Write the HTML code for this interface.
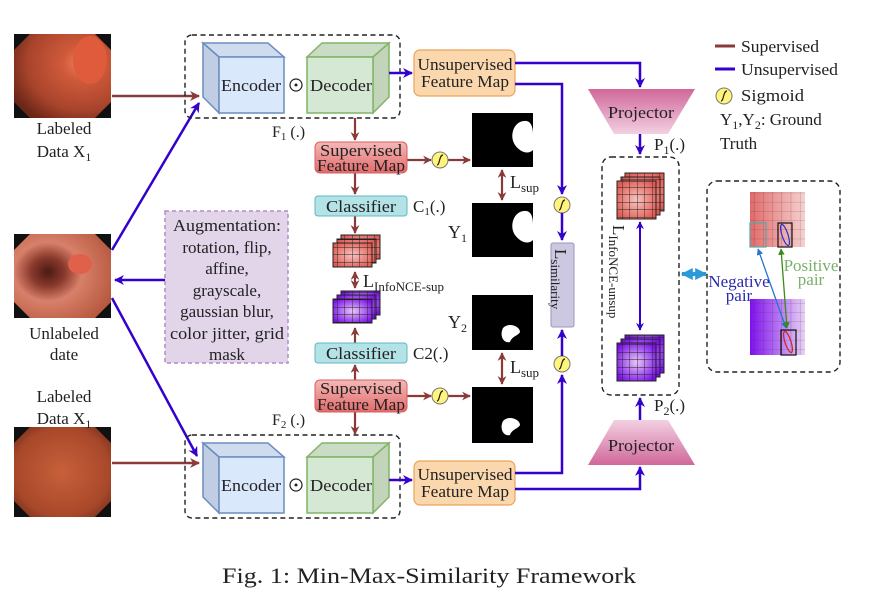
<!DOCTYPE html>
<html><head><meta charset="utf-8"><style>
html,body{margin:0;padding:0;background:#fff}
svg{display:block}
text{font-family:"Liberation Serif",serif;fill:#222}
</style></head><body>
<svg width="872" height="606" viewBox="0 0 872 606" xmlns="http://www.w3.org/2000/svg">
<defs>
<marker id="ab" viewBox="0 0 10 10" refX="9" refY="5" markerWidth="4" markerHeight="4" orient="auto-start-reverse"><path d="M0,0 L10,5 L0,10 L3,5 z" fill="#3300cc"/></marker>
<marker id="ar" viewBox="0 0 10 10" refX="9" refY="5" markerWidth="4" markerHeight="4" orient="auto-start-reverse"><path d="M0,0 L10,5 L0,10 L3,5 z" fill="#8b3a3a"/></marker>
<marker id="ac" viewBox="0 0 10 10" refX="9" refY="5" markerWidth="3" markerHeight="3" orient="auto-start-reverse"><path d="M0,0 L10,5 L0,10 z" fill="#2a9bd8"/></marker>
<marker id="an" viewBox="0 0 10 10" refX="9" refY="5" markerWidth="5" markerHeight="5" orient="auto-start-reverse"><path d="M0,0 L10,5 L0,10 z" fill="#2277cc"/></marker>
<marker id="ap" viewBox="0 0 10 10" refX="9" refY="5" markerWidth="5" markerHeight="5" orient="auto-start-reverse"><path d="M0,0 L10,5 L0,10 z" fill="#3a8a1a"/></marker>
<radialGradient id="ph1" cx="0.7" cy="0.35" r="0.8"><stop offset="0" stop-color="#f08060"/><stop offset="0.25" stop-color="#d05a3a"/><stop offset="0.7" stop-color="#a8442c"/><stop offset="1" stop-color="#6a2616"/></radialGradient>
<radialGradient id="ph2" cx="0.35" cy="0.45" r="0.7"><stop offset="0" stop-color="#4a1a14"/><stop offset="0.25" stop-color="#8a3a2c"/><stop offset="0.5" stop-color="#d8806a"/><stop offset="1" stop-color="#b85a40"/></radialGradient>
<radialGradient id="ph3" cx="0.5" cy="0.5" r="0.7"><stop offset="0" stop-color="#c8603a"/><stop offset="0.7" stop-color="#a8482a"/><stop offset="1" stop-color="#6a2818"/></radialGradient>
<linearGradient id="sfm" x1="0" y1="0" x2="0" y2="1"><stop offset="0" stop-color="#f5b8b8"/><stop offset="1" stop-color="#e26a6a"/></linearGradient>
<linearGradient id="proj" x1="0" y1="0" x2="0" y2="1"><stop offset="0" stop-color="#d0689a"/><stop offset="1" stop-color="#f3d0e2"/></linearGradient>
<linearGradient id="proj2" x1="0" y1="1" x2="0" y2="0"><stop offset="0" stop-color="#d0689a"/><stop offset="1" stop-color="#f3d0e2"/></linearGradient>
<radialGradient id="rc" cx="0.5" cy="0.5" r="0.6"><stop offset="0" stop-color="#f8c4c0"/><stop offset="1" stop-color="#e05a52"/></radialGradient>
<radialGradient id="pc" cx="0.5" cy="0.5" r="0.6"><stop offset="0" stop-color="#e8c8f8"/><stop offset="1" stop-color="#7a10e8"/></radialGradient>
<linearGradient id="rg" x1="0" y1="0" x2="1" y2="0"><stop offset="0" stop-color="#e26a6a"/><stop offset="1" stop-color="#f8d0d0"/></linearGradient>
<linearGradient id="pg" x1="0" y1="0" x2="1" y2="0"><stop offset="0" stop-color="#8010f0"/><stop offset="1" stop-color="#e8d0f4"/></linearGradient>
<pattern id="grid" width="7.5" height="7.5" patternUnits="userSpaceOnUse"><path d="M7.5,0 V7.5 H0" fill="none" stroke="#222" stroke-width="0.9"/></pattern>
<pattern id="grid2" width="9.2" height="9.2" patternUnits="userSpaceOnUse"><path d="M9.2,0 V9.2 H0" fill="none" stroke="#333" stroke-width="0.6" opacity="0.6"/></pattern>
<g id="sig"><circle cx="0" cy="0" r="8" fill="#fff57a" stroke="#777" stroke-width="1"/><path d="M-3,5 C0,5 -1,-5 3,-5" fill="none" stroke="#222" stroke-width="1.2"/></g>
</defs>

<!-- photos -->
<rect x="14" y="34" width="97" height="84" fill="#111"/>
<polygon points="30,34 95,34 111,50 111,102 95,118 30,118 14,102 14,50" fill="url(#ph1)"/>
<ellipse cx="90" cy="60" rx="17" ry="24" fill="#e05a3c"/>
<rect x="14" y="234" width="97" height="84" fill="#111"/>
<polygon points="30,234 95,234 111,250 111,302 95,318 30,318 14,302 14,250" fill="url(#ph2)"/>
<ellipse cx="80" cy="264" rx="12" ry="10" fill="#e0604a"/>
<rect x="14" y="427" width="97" height="90" fill="#111"/>
<polygon points="30,427 95,427 111,443 111,501 95,517 30,517 14,501 14,443" fill="url(#ph3)"/>

<g font-size="17" text-anchor="middle">
<text x="64" y="134">Labeled</text>
<text x="64" y="157">Data X<tspan font-size="12" dy="4">1</tspan></text>
<text x="64" y="339">Unlabeled</text>
<text x="64" y="360">date</text>
<text x="64" y="402">Labeled</text>
<text x="64" y="424">Data X<tspan font-size="12" dy="4">1</tspan></text>
</g>

<!-- arrows from photos -->
<line x1="112" y1="96" x2="199" y2="96" stroke="#8b3a3a" stroke-width="2.5" marker-end="url(#ar)"/>
<line x1="112" y1="463" x2="199" y2="463" stroke="#8b3a3a" stroke-width="2.5" marker-end="url(#ar)"/>
<line x1="112" y1="250" x2="199" y2="103" stroke="#3300cc" stroke-width="2.5" marker-end="url(#ab)"/>
<line x1="112" y1="298" x2="197" y2="456" stroke="#3300cc" stroke-width="2.5" marker-end="url(#ab)"/>
<line x1="165" y1="280" x2="115" y2="280" stroke="#3300cc" stroke-width="2.5" marker-end="url(#ab)"/>

<!-- augmentation -->
<rect x="165" y="211" width="123" height="152" fill="#e2d5ea" stroke="#b08cc8" stroke-width="1.5" stroke-dasharray="4,3"/>
<g font-size="17" text-anchor="middle">
<text x="227" y="231" textLength="108" lengthAdjust="spacingAndGlyphs">Augmentation:</text>
<text x="227" y="253">rotation, flip,</text>
<text x="227" y="274">affine,</text>
<text x="227" y="296">grayscale,</text>
<text x="227" y="317">gaussian blur,</text>
<text x="227" y="339" textLength="114" lengthAdjust="spacingAndGlyphs">color jitter, grid</text>
<text x="227" y="360">mask</text>
</g>

<!-- encoder/decoder blocks -->
<g id="ed">
<rect x="185" y="35" width="215" height="83" rx="7" fill="none" stroke="#222" stroke-width="1.4" stroke-dasharray="5,3.5"/>
<polygon points="203,43 268,43 284,57 219,57" fill="#cfdcf0" stroke="#6c8ebf" stroke-width="1.5"/>
<polygon points="203,43 219,57 219,113 203,97" fill="#c0cde3" stroke="#6c8ebf" stroke-width="1.5"/>
<rect x="219" y="57" width="65" height="56" fill="#dae8fc" stroke="#6c8ebf" stroke-width="1.5"/>
<polygon points="307,57 322,43 389,43 373,57" fill="#cbdcc4" stroke="#82b366" stroke-width="1.5"/>
<polygon points="373,57 389,43 389,97 373,113" fill="#c2d4ba" stroke="#82b366" stroke-width="1.5"/>
<rect x="307" y="57" width="66" height="56" fill="#d5e8d4" stroke="#82b366" stroke-width="1.5"/>
<text x="251" y="91" font-size="17" text-anchor="middle" textLength="60" lengthAdjust="spacingAndGlyphs">Encoder</text>
<text x="341" y="91" font-size="17" text-anchor="middle" textLength="62" lengthAdjust="spacingAndGlyphs">Decoder</text>
<circle cx="296" cy="85" r="6" fill="none" stroke="#222" stroke-width="1.2"/>
<circle cx="296" cy="85" r="1.5" fill="#222"/>
</g>
<use href="#ed" transform="translate(0,400)"/>
<text x="272" y="137" font-size="16">F<tspan font-size="11" dy="3">1</tspan><tspan dy="-3"> (.)</tspan></text>
<text x="272" y="425" font-size="16">F<tspan font-size="11" dy="3">2</tspan><tspan dy="-3"> (.)</tspan></text>

<!-- decoder -> UFM -->
<line x1="389" y1="73" x2="412" y2="73" stroke="#3300cc" stroke-width="2.5" marker-end="url(#ab)"/>
<line x1="389" y1="480" x2="412" y2="480" stroke="#3300cc" stroke-width="2.5" marker-end="url(#ab)"/>
<rect x="414" y="50" width="101" height="46" rx="6" fill="#fbd7ae" stroke="#e9a45d" stroke-width="1.2"/>
<text x="465" y="70" font-size="17" text-anchor="middle" textLength="95" lengthAdjust="spacingAndGlyphs">Unsupervised</text>
<text x="465" y="87" font-size="17" text-anchor="middle" textLength="88" lengthAdjust="spacingAndGlyphs">Feature Map</text>
<rect x="414" y="461" width="101" height="44" rx="6" fill="#fbd7ae" stroke="#e9a45d" stroke-width="1.2"/>
<text x="465" y="480" font-size="17" text-anchor="middle" textLength="95" lengthAdjust="spacingAndGlyphs">Unsupervised</text>
<text x="465" y="497" font-size="17" text-anchor="middle" textLength="88" lengthAdjust="spacingAndGlyphs">Feature Map</text>

<!-- supervised path -->
<g stroke="#8b3a3a" stroke-width="2.2" fill="none">
<line x1="355" y1="118" x2="355" y2="140" marker-end="url(#ar)"/>
<line x1="355" y1="172" x2="355" y2="194" marker-end="url(#ar)"/>
<line x1="355" y1="216" x2="355" y2="233" marker-end="url(#ar)"/>
<line x1="355" y1="272" x2="355" y2="288" marker-start="url(#ar)" marker-end="url(#ar)"/>
<line x1="355" y1="343" x2="355" y2="328" marker-end="url(#ar)"/>
<line x1="355" y1="380" x2="355" y2="365" marker-end="url(#ar)"/>
<line x1="355" y1="412" x2="355" y2="434" marker-end="url(#ar)"/>
<line x1="407" y1="160" x2="431" y2="160" marker-end="url(#ar)"/>
<line x1="448" y1="160" x2="470" y2="160" marker-end="url(#ar)"/>
<line x1="407" y1="396" x2="431" y2="396" marker-end="url(#ar)"/>
<line x1="448" y1="396" x2="470" y2="396" marker-end="url(#ar)"/>
<line x1="502" y1="170" x2="502" y2="200" marker-start="url(#ar)" marker-end="url(#ar)"/>
<line x1="502" y1="353" x2="502" y2="384" marker-start="url(#ar)" marker-end="url(#ar)"/>
</g>
<rect x="315" y="142" width="92" height="31" rx="5" fill="url(#sfm)" stroke="#d46060" stroke-width="1"/>
<text x="361" y="156" font-size="17" text-anchor="middle" textLength="82" lengthAdjust="spacingAndGlyphs">Supervised</text>
<text x="361" y="171" font-size="17" text-anchor="middle" textLength="88" lengthAdjust="spacingAndGlyphs">Feature Map</text>
<rect x="315" y="380" width="92" height="32" rx="5" fill="url(#sfm)" stroke="#d46060" stroke-width="1"/>
<text x="361" y="394" font-size="17" text-anchor="middle" textLength="82" lengthAdjust="spacingAndGlyphs">Supervised</text>
<text x="361" y="410" font-size="17" text-anchor="middle" textLength="88" lengthAdjust="spacingAndGlyphs">Feature Map</text>
<rect x="315" y="196" width="92" height="20" rx="3" fill="#b3e3e6" stroke="#5fb8bf" stroke-width="1"/>
<text x="361" y="212" font-size="17" text-anchor="middle" textLength="70" lengthAdjust="spacingAndGlyphs">Classifier</text>
<rect x="315" y="343" width="92" height="20" rx="3" fill="#b3e3e6" stroke="#5fb8bf" stroke-width="1"/>
<text x="361" y="359" font-size="17" text-anchor="middle" textLength="70" lengthAdjust="spacingAndGlyphs">Classifier</text>
<text x="413" y="212" font-size="17">C<tspan font-size="11" dy="3">1</tspan><tspan dy="-3">(.)</tspan></text>
<text x="413" y="359" font-size="17">C2(.)</text>

<!-- cube stacks middle -->
<g stroke="#222" stroke-width="1">
<rect x="341" y="235" width="39" height="24" fill="url(#rc)"/><rect x="341" y="235" width="39" height="24" fill="url(#grid)"/>
<rect x="337" y="239" width="39" height="24" fill="url(#rc)"/><rect x="337" y="239" width="39" height="24" fill="url(#grid)"/>
<rect x="333" y="243" width="39" height="24" fill="url(#rc)"/><rect x="333" y="243" width="39" height="24" fill="url(#grid)"/>
<rect x="341" y="291" width="39" height="24" fill="url(#pc)"/><rect x="341" y="291" width="39" height="24" fill="url(#grid)"/>
<rect x="337" y="295" width="39" height="24" fill="url(#pc)"/><rect x="337" y="295" width="39" height="24" fill="url(#grid)"/>
<rect x="333" y="299" width="39" height="24" fill="url(#pc)"/><rect x="333" y="299" width="39" height="24" fill="url(#grid)"/>
</g>
<text x="363" y="287" font-size="18">L<tspan font-size="13" dy="4">InfoNCE-sup</tspan></text>

<!-- sigmoids -->
<use href="#sig" x="440" y="160"/>
<use href="#sig" x="440" y="396"/>
<use href="#sig" x="562" y="205"/>
<use href="#sig" x="562" y="364"/>
<use href="#sig" x="724" y="96"/>

<!-- masks -->
<rect x="472" y="113" width="61" height="54" fill="#000"/><path d="M520,122 C530,118 533,125 533,135 L533,150 C528,155 520,152 515,145 C510,138 512,126 520,122z" fill="#fff"/>
<rect x="472" y="203" width="61" height="54" fill="#000"/><path d="M520,212 C530,208 533,215 533,225 L533,240 C528,245 520,242 515,235 C510,228 512,216 520,212z" fill="#fff"/>
<rect x="472" y="295" width="61" height="55" fill="#000"/><path d="M503,328 C508,322 520,326 520,332 C518,336 512,336 510,342 C504,344 499,336 503,328z" fill="#fff"/>
<rect x="472" y="387" width="61" height="56" fill="#000"/><path d="M503,421 C508,415 520,419 520,425 C518,429 512,429 510,435 C504,437 499,429 503,421z" fill="#fff"/>
<text x="448" y="238" font-size="18">Y<tspan font-size="12" dy="4">1</tspan></text>
<text x="448" y="328" font-size="18">Y<tspan font-size="12" dy="4">2</tspan></text>
<text x="510" y="188" font-size="18">L<tspan font-size="13" dy="4">sup</tspan></text>
<text x="510" y="373" font-size="18">L<tspan font-size="13" dy="4">sup</tspan></text>

<!-- L similarity -->
<rect x="551" y="243" width="23" height="84" rx="2" fill="#ccc8e0" stroke="#9a96c0" stroke-width="1"/>
<text transform="translate(555,249) rotate(90)" font-size="17">L<tspan font-size="13" dy="4">similarity</tspan></text>

<!-- blue connectors -->
<g stroke="#3300cc" stroke-width="2.5" fill="none">
<polyline points="515,84 562,84 562,194" marker-end="url(#ab)"/>
<line x1="562" y1="213" x2="562" y2="240" marker-end="url(#ab)"/>
<polyline points="515,473 562,473 562,375" marker-end="url(#ab)"/>
<line x1="562" y1="356" x2="562" y2="330" marker-end="url(#ab)"/>
<polyline points="515,63 640,63 640,87" marker-end="url(#ab)"/>
<line x1="640" y1="134" x2="640" y2="154" marker-end="url(#ab)"/>
<polyline points="515,489 640,489 640,467" marker-end="url(#ab)"/>
<line x1="640" y1="420" x2="640" y2="398" marker-end="url(#ab)"/>
<line x1="640" y1="222" x2="640" y2="330" stroke-width="2" marker-start="url(#ab)" marker-end="url(#ab)"/>
</g>

<!-- projectors -->
<polygon points="588,89 695,89 668,134 614,134" fill="url(#proj)"/>
<text x="641" y="118" font-size="17" text-anchor="middle" textLength="66" lengthAdjust="spacingAndGlyphs">Projector</text>
<polygon points="614,420 668,420 695,465 588,465" fill="url(#proj2)"/>
<text x="641" y="451" font-size="17" text-anchor="middle" textLength="66" lengthAdjust="spacingAndGlyphs">Projector</text>
<text x="654" y="150" font-size="17">P<tspan font-size="12" dy="4">1</tspan><tspan dy="-4">(.)</tspan></text>
<text x="654" y="411" font-size="17">P<tspan font-size="12" dy="4">2</tspan><tspan dy="-4">(.)</tspan></text>

<!-- center dashed box -->
<rect x="602" y="157" width="77" height="238" rx="9" fill="none" stroke="#222" stroke-width="1.4" stroke-dasharray="5,3.5"/>
<g stroke="#222" stroke-width="1">
<rect x="625" y="173" width="39" height="38" fill="url(#rc)"/><rect x="625" y="173" width="39" height="38" fill="url(#grid)"/>
<rect x="621" y="177" width="39" height="38" fill="url(#rc)"/><rect x="621" y="177" width="39" height="38" fill="url(#grid)"/>
<rect x="617" y="181" width="39" height="38" fill="url(#rc)"/><rect x="617" y="181" width="39" height="38" fill="url(#grid)"/>
<rect x="625" y="335" width="39" height="38" fill="url(#pc)"/><rect x="625" y="335" width="39" height="38" fill="url(#grid)"/>
<rect x="621" y="339" width="39" height="38" fill="url(#pc)"/><rect x="621" y="339" width="39" height="38" fill="url(#grid)"/>
<rect x="617" y="343" width="39" height="38" fill="url(#pc)"/><rect x="617" y="343" width="39" height="38" fill="url(#grid)"/>
</g>
<text transform="translate(613,225) rotate(90)" font-size="17">L<tspan font-size="13" dy="4">InfoNCE-unsup</tspan></text>

<!-- cyan double arrow -->
<line x1="682" y1="274" x2="706" y2="274" stroke="#2a9bd8" stroke-width="4" marker-start="url(#ac)" marker-end="url(#ac)"/>

<!-- right box -->
<rect x="707" y="181" width="133" height="191" rx="10" fill="none" stroke="#222" stroke-width="1.4" stroke-dasharray="5,3.5"/>
<rect x="750" y="192" width="55" height="55" fill="url(#rg)"/><rect x="750" y="192" width="55" height="55" fill="url(#grid2)"/>
<rect x="750" y="299" width="55" height="56" fill="url(#pg)"/><rect x="750" y="299" width="55" height="56" fill="url(#grid2)"/>
<rect x="750" y="223" width="16" height="24" fill="none" stroke="#5aa" stroke-width="1.2"/>
<rect x="778" y="223" width="14" height="24" fill="none" stroke="#111" stroke-width="1.2"/>
<ellipse cx="785" cy="235" rx="3" ry="11" transform="rotate(-18 785 235)" fill="none" stroke="#2233cc" stroke-width="1.2"/>
<rect x="781" y="330" width="15" height="25" fill="none" stroke="#111" stroke-width="1.2"/>
<ellipse cx="788" cy="342" rx="3" ry="11" transform="rotate(-18 788 342)" fill="none" stroke="#cc2222" stroke-width="1.2"/>
<line x1="758" y1="249" x2="786" y2="328" stroke="#2277cc" stroke-width="1.3" marker-start="url(#an)" marker-end="url(#an)"/>
<line x1="781" y1="249" x2="787" y2="328" stroke="#3a8a1a" stroke-width="1.3" marker-start="url(#ap)" marker-end="url(#ap)"/>
<text x="739" y="287" font-size="17" text-anchor="middle" style="fill:#2a2ab0">Negative</text>
<text x="739" y="301" font-size="17" text-anchor="middle" style="fill:#2a2ab0">pair</text>
<text x="811" y="271" font-size="17" text-anchor="middle" style="fill:#7ab06a">Positive</text>
<text x="811" y="285" font-size="17" text-anchor="middle" style="fill:#7ab06a">pair</text>

<!-- legend -->
<line x1="715" y1="46" x2="735" y2="46" stroke="#8b3a3a" stroke-width="3"/>
<text x="741" y="52" font-size="17" textLength="78" lengthAdjust="spacingAndGlyphs">Supervised</text>
<line x1="715" y1="69" x2="735" y2="69" stroke="#3300cc" stroke-width="3"/>
<text x="741" y="75" font-size="17" textLength="97" lengthAdjust="spacingAndGlyphs">Unsupervised</text>
<text x="741" y="101" font-size="17" textLength="63" lengthAdjust="spacingAndGlyphs">Sigmoid</text>
<text x="720" y="125" font-size="17">Y<tspan font-size="12" dy="4">1</tspan><tspan dy="-4">,Y</tspan><tspan font-size="12" dy="4">2</tspan><tspan dy="-4">: Ground</tspan></text>
<text x="720" y="149" font-size="17">Truth</text>

<!-- caption -->
<text x="429" y="583" font-size="22" text-anchor="middle" textLength="414" lengthAdjust="spacingAndGlyphs">Fig. 1: Min-Max-Similarity Framework</text>
</svg>
</body></html>
